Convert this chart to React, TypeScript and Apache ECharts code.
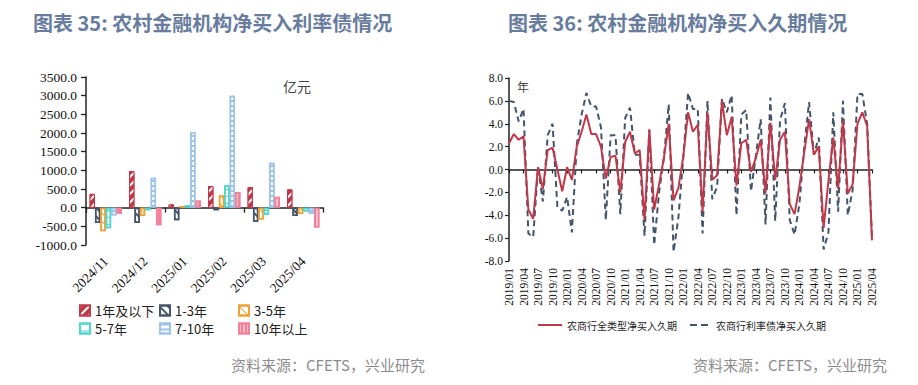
import React, { useEffect, useRef } from 'react';
import * as echarts from 'echarts';

// ---------- Left chart data (亿元) ----------
const barCategories = ['2024/11', '2024/12', '2025/01', '2025/02', '2025/03', '2025/04'];
const bucketNames = ['1年及以下', '1-3年', '3-5年', '5-7年', '7-10年', '10年以上'];
const bucketUnder1 = [370, 980, 90, 580, 550, 490];
const bucket1to3 = [-410, -410, -340, -70, -380, -220];
const bucket3to5 = [-630, -220, 45, 330, -320, -170];
const bucket5to7 = [-550, -70, 70, 600, -190, -100];
const bucket7to10 = [-210, 800, 2030, 3000, 1200, -170];
const bucketOver10 = [-160, -470, 190, 420, 295, -530];

// ---------- Right chart data (年) ----------
const months: string[] = [];
for (let y = 2019; y <= 2025; y++) {
  for (let m = 1; m <= 12; m++) {
    if (y === 2025 && m > 4) break;
    months.push(`${y}/${String(m).padStart(2, '0')}`);
  }
}
const lineNames = ['农商行全类型净买入久期', '农商行利率债净买入久期'];
const allTypeDuration = [
  2.3, 3.1, 2.6, 2.9, -3.5, -4.3, 0.2, -1.7, 1.7, 1.9, 0.0, -1.9,
  0.2, -0.9, 2.0, 3.3, 4.8, 3.1, 3.1, 2.0, -0.8, 1.1, 1.2, -2.0,
  2.4, 3.3, 1.4, 1.7, -4.4, 3.5, -3.5, -1.3, 1.0, 4.0, -2.7, -1.6,
  1.1, 5.0, 3.3, 3.9, -3.7, 5.0, -0.9, -0.5, 6.0, 3.0, 4.6, -1.4,
  2.3, 2.6, -0.2, 1.0, 2.6, -2.1, 4.1, -0.9, 2.6, 3.3, -3.0, -3.9,
  -1.5, 1.5, 4.4, 1.3, 2.0, -5.1, -1.0, 2.8, -1.7, 4.3, -2.1, -1.3,
  4.0, 5.0, 3.8, -6.2,
];
const rateBondDuration = [
  6.0, 5.9, 4.2, 5.3, -5.6, -5.9, 0.2, -2.8, 3.0, 4.0, -3.3, -3.6,
  -2.4, -5.5, 2.2, 4.8, 6.7, 5.5, 5.5, 3.7, -4.4, 3.0, 3.0, -3.9,
  4.5, 5.4, 1.3, 1.3, -5.8, 3.5, -6.6, -2.0, 1.0, 5.7, -7.2, -4.2,
  1.0, 6.7, 5.3, 5.3, -5.6, 6.0, -2.6, -1.5, 6.2, 5.0, 6.5, -4.0,
  4.8, 5.2, -1.9, 1.2, 4.4, -4.8, 6.3, -4.5, 4.3, 5.8, -4.4, -5.7,
  -3.0, 2.0, 5.9, 1.3, 2.8, -7.0, -5.5, 5.0, -3.7, 6.0, -4.0, -1.8,
  6.6, 6.6, 4.0, -6.0,
];

const SERIF = 'Liberation Serif';
const CJK = 'Noto Sans CJK SC';
const AXIS = '#222';

const RED = '#C0394B';
const NAVY = '#44546A';
const ORANGE = '#EEA236';
const TEAL = '#4ED6CF';
const LIGHTBLUE = '#9DC3E6';
const PINK = '#F2819A';

export default function App() {
  const ref = useRef<HTMLDivElement>(null);
  useEffect(() => {
    if (!ref.current) return;
    const chart = echarts.init(ref.current, undefined, { renderer: 'svg' });

    const barData = [bucketUnder1, bucket1to3, bucket3to5, bucket5to7, bucket7to10, bucketOver10];
    const barStyles: any[] = [
      { color: RED, borderColor: RED, borderWidth: 1, decal: { color: '#fff', dashArrayX: [1, 0], dashArrayY: [1.5, 3.5], rotation: -Math.PI / 4 } },
      { color: '#fff', borderColor: NAVY, borderWidth: 1.5, decal: { color: NAVY, dashArrayX: [1, 0], dashArrayY: [1.5, 3.5], rotation: Math.PI / 4 } },
      { color: '#fff', borderColor: ORANGE, borderWidth: 1.5, decal: { color: ORANGE, dashArrayX: [1, 0], dashArrayY: [1, 5], rotation: Math.PI / 4 } },
      { color: '#fff', borderColor: TEAL, borderWidth: 1.5, decal: { color: TEAL, dashArrayX: [1, 0], dashArrayY: [1, 6], rotation: 0 } },
      { color: '#fff', borderColor: LIGHTBLUE, borderWidth: 1.5, decal: { color: LIGHTBLUE, dashArrayX: [1, 0], dashArrayY: [1.5, 2.5], rotation: 0 } },
      { color: '#F9BFCB', borderColor: PINK, borderWidth: 1.5, decal: { color: PINK, dashArrayX: [1, 0], dashArrayY: [1.5, 1.5], rotation: Math.PI / 2 } },
    ];

    const barSeries = bucketNames.map((name, i) => ({
      name,
      type: 'bar',
      xAxisIndex: 0,
      yAxisIndex: 0,
      data: barData[i],
      barGap: '0%',
      barCategoryGap: '18%',
      itemStyle: barStyles[i],
    }));

    const legendPos = [
      [79, 304], [159, 304], [238, 304],
      [79, 322], [159, 322], [238, 322],
    ];
    const barLegends = bucketNames.map((name, i) => ({
      data: [name],
      left: legendPos[i][0],
      top: legendPos[i][1],
      padding: 0,
      itemWidth: 10,
      itemHeight: 10,
      icon: 'rect',
      textStyle: { fontSize: 13, color: '#222', fontFamily: CJK },
    }));

    const option: any = {
      animation: false,
      grid: [
        { left: 86, top: 77, width: 237, height: 168 },
        { left: 509, top: 78, width: 363, height: 183 },
      ],
      xAxis: [
        {
          gridIndex: 0, type: 'category', data: barCategories, position: 'bottom',
          axisLine: { show: false, onZero: false }, axisTick: { show: false },
          axisLabel: { rotate: 45, margin: 14, fontFamily: SERIF, fontSize: 13.5, color: '#111' },
        },
        {
          gridIndex: 0, type: 'category', data: barCategories, position: 'top',
          axisLine: { show: true, onZero: true, lineStyle: { color: AXIS, width: 1.5 } },
          axisTick: { show: true, inside: true, length: 5, lineStyle: { color: AXIS, width: 1.3 } },
          axisLabel: { show: false },
        },
        {
          gridIndex: 1, type: 'category', data: months, boundaryGap: false, position: 'bottom',
          axisLine: { show: false, onZero: false }, axisTick: { show: false },
          axisLabel: { rotate: 90, interval: 2, margin: 7, fontFamily: SERIF, fontSize: 11.5, color: '#111' },
        },
        {
          gridIndex: 1, type: 'category', data: months, boundaryGap: false, position: 'top',
          axisLine: { show: true, onZero: true, lineStyle: { color: AXIS, width: 1.5 } },
          axisTick: { show: true, inside: true, interval: 2, length: 4, lineStyle: { color: AXIS, width: 1.2 } },
          axisLabel: { show: false },
        },
      ],
      yAxis: [
        {
          gridIndex: 0, type: 'value', min: -1000, max: 3500, interval: 500,
          splitLine: { show: false },
          axisLine: { show: true, lineStyle: { color: AXIS, width: 1.5 } },
          axisTick: { show: true, length: 5, lineStyle: { color: AXIS, width: 1.3 } },
          axisLabel: { formatter: (v: number) => v.toFixed(1), margin: 9, fontFamily: SERIF, fontSize: 13.5, color: '#111' },
        },
        {
          gridIndex: 1, type: 'value', min: -8, max: 8, interval: 2,
          splitLine: { show: false },
          axisLine: { show: true, lineStyle: { color: AXIS, width: 1.5 } },
          axisTick: { show: true, length: 4, lineStyle: { color: AXIS, width: 1.2 } },
          axisLabel: { formatter: (v: number) => v.toFixed(1), margin: 6, fontFamily: SERIF, fontSize: 11.5, color: '#111' },
        },
      ],
      legend: [
        ...barLegends,
        {
          data: [
            { name: lineNames[0], icon: 'rect' },
            { name: lineNames[1], icon: 'path://M0,0h7v2h-7z M11,0h7v2h-7z' },
          ],
          left: 538, top: 320, padding: 0,
          itemWidth: 24, itemHeight: 2, itemGap: 13,
          textStyle: { fontSize: 10, color: '#222', fontFamily: CJK },
        },
      ],
      series: [
        ...barSeries,
        {
          name: lineNames[1], type: 'line', xAxisIndex: 2, yAxisIndex: 1,
          data: rateBondDuration, symbol: 'none',
          lineStyle: { color: NAVY, width: 2, type: [6, 4] },
          itemStyle: { color: NAVY },
        },
        {
          name: lineNames[0], type: 'line', xAxisIndex: 2, yAxisIndex: 1,
          data: allTypeDuration, symbol: 'none',
          lineStyle: { color: RED, width: 2 },
          itemStyle: { color: RED },
        },
      ],
      graphic: [
        { type: 'text', left: 33, top: 12, style: { text: '图表 35: 农村金融机构净买入利率债情况', fontSize: 20, fontWeight: 'bold', fill: '#687C9E', fontFamily: CJK } },
        { type: 'text', left: 508, top: 12, style: { text: '图表 36: 农村金融机构净买入久期情况', fontSize: 20, fontWeight: 'bold', fill: '#687C9E', fontFamily: CJK } },
        { type: 'text', left: 283, top: 79, style: { text: '亿元', fontSize: 14, fill: '#444', fontFamily: CJK } },
        { type: 'text', left: 517, top: 80, style: { text: '年', fontSize: 12, fill: '#444', fontFamily: CJK } },
        { type: 'text', right: 493, top: 357, style: { text: '资料来源：CFETS，兴业研究', fontSize: 15, fill: '#8C8C8C', fontFamily: CJK } },
        { type: 'text', right: 31, top: 357, style: { text: '资料来源：CFETS，兴业研究', fontSize: 15, fill: '#8C8C8C', fontFamily: CJK } },
      ],
    };
    chart.setOption(option);
    return () => chart.dispose();
  }, []);
  return <div ref={ref} style={{ position: 'absolute', left: 0, top: 0, width: 918, height: 385 }} />;
}
